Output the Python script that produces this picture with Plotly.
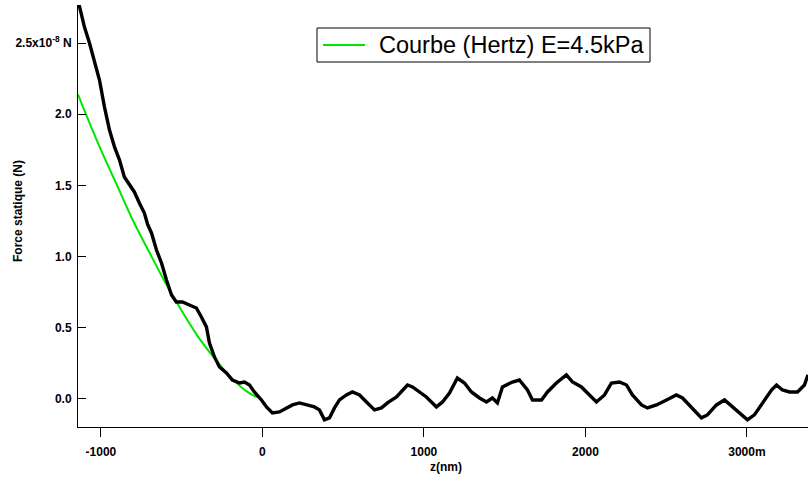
import plotly.graph_objects as go

# Measured static force vs. piezo position (nm, units of 1e-8 N)
z_meas = [-1142, -1133, -1102, -1071, -1040, -1009, -978, -947, -916, -885, -855,
          -824, -793, -762, -731, -712, -687, -656, -625, -594, -563, -533, -495,
          -452, -409, -378, -347, -328, -297, -266, -223, -186, -142, -111, -80,
          -50, -6, 25, 62, 105, 149, 186, 229, 272, 322, 353, 384, 415, 446, 477,
          520, 557, 601, 644, 694, 737, 774, 830, 867, 898, 929, 972, 1015, 1077,
          1115, 1158, 1207, 1251, 1294, 1344, 1387, 1424, 1455, 1486, 1548, 1591,
          1641, 1672, 1728, 1765, 1820, 1882, 1920, 1975, 2012, 2068, 2118, 2161,
          2211, 2254, 2291, 2347, 2384, 2440, 2502, 2563, 2601, 2656, 2718, 2755,
          2811, 2861, 2910, 2966, 3003, 3046, 3096, 3152, 3183, 3220, 3263, 3313,
          3356, 3378]
f_meas = [2.80, 2.753, 2.612, 2.500, 2.380, 2.240, 2.050, 1.889, 1.770, 1.678, 1.559,
          1.503, 1.454, 1.376, 1.306, 1.230, 1.166, 1.046, 0.955, 0.836, 0.730, 0.681,
          0.681, 0.660, 0.639, 0.576, 0.506, 0.393, 0.295, 0.225, 0.183, 0.133, 0.112,
          0.119, 0.098, 0.049, -0.007, -0.056, -0.098, -0.091, -0.063, -0.042, -0.028,
          -0.042, -0.056, -0.077, -0.147, -0.133, -0.063, -0.007, 0.028, 0.049, 0.028,
          -0.021, -0.077, -0.063, -0.028, 0.014, 0.063, 0.098, 0.084, 0.049, 0.014,
          -0.056, -0.021, 0.042, 0.147, 0.112, 0.049, 0.007, -0.021, 0.007, -0.028,
          0.084, 0.119, 0.133, 0.063, -0.007, -0.007, 0.049, 0.112, 0.169, 0.119,
          0.084, 0.042, -0.021, 0.028, 0.112, 0.119, 0.098, 0.028, -0.042, -0.063,
          -0.042, -0.007, 0.028, 0.007, -0.056, -0.133, -0.112, -0.042, -0.007,
          -0.056, -0.112, -0.147, -0.112, -0.028, 0.063, 0.098, 0.063, 0.049, 0.049,
          0.098, 0.169]

# Hertz contact model fit (E = 4.5 kPa)
z_fit = [-1142, -1100, -1000, -900, -800, -700, -600, -500, -400, -300, -200, -100, -35]
f_fit = [2.14, 2.02, 1.75, 1.50, 1.25, 1.03, 0.815, 0.62, 0.44, 0.29, 0.157, 0.055, 0.011]
fit_label = "Courbe (Hertz) E=4.5kPa"

x_ticks = [-1000, 0, 1000, 2000, 3000]
x_ticktext = ["-1000", "0", "1000", "2000", "3000m"]
y_ticks = [0.0, 0.5, 1.0, 1.5, 2.0, 2.5]
y_ticktext = ["0.0", "0.5", "1.0", "1.5", "2.0", "2.5x10<sup>-8</sup> N"]

FONT = "Arial, Liberation Sans, sans-serif"
FIT_GREEN = "#00e600"

# plot area in pixels (left, right, top, bottom)
PL, PR, PT, PB = 78, 808, 5, 427
PW, PH = PR - PL, PB - PT


def px(x):
    return (x - PL) / PW


def py(y):
    return (PB - y) / PH


fig = go.Figure()
fig.add_trace(go.Scatter(
    x=z_fit, y=f_fit, mode="lines", line=dict(color=FIT_GREEN, width=2, shape="spline"),
    name=fit_label, showlegend=False,
))
fig.add_trace(go.Scatter(
    x=z_meas, y=f_meas, mode="lines", line=dict(color="#000000", width=3.4),
    name="mesure", showlegend=False,
))

# boxed key for the fit curve
shapes = [
    dict(type="rect", xref="paper", yref="paper", x0=px(317), x1=px(650),
         y0=py(62), y1=py(28), line=dict(color="black", width=1), fillcolor="white",
         layer="above"),
    dict(type="line", xref="paper", yref="paper", x0=px(323), x1=px(365),
         y0=py(45), y1=py(45), line=dict(color=FIT_GREEN, width=2), layer="above"),
]

fig.update_layout(
    width=808, height=478,
    margin=dict(l=PL, r=808 - PR, t=PT, b=478 - PB),
    paper_bgcolor="white", plot_bgcolor="white",
    font=dict(family=FONT, color="black"),
    showlegend=False,
    shapes=shapes,
    xaxis=dict(
        range=[-1142, 3378], tickvals=x_ticks, ticktext=x_ticktext,
        ticks="outside", ticklen=9, tickwidth=1, tickcolor="black",
        showline=True, linecolor="black", linewidth=1,
        showgrid=False, zeroline=False,
        tickfont=dict(family=FONT, size=12, color="black", weight="bold"),
        ticklabelstandoff=5,
    ),
    yaxis=dict(
        range=[-0.197, 2.767], tickvals=y_ticks, ticktext=y_ticktext,
        ticks="inside", ticklen=8, tickwidth=1, tickcolor="black",
        showline=True, linecolor="black", linewidth=1,
        showgrid=False, zeroline=False,
        tickfont=dict(family=FONT, size=12, color="black", weight="bold"),
        ticklabelstandoff=3,
    ),
    annotations=[
        dict(text=fit_label, xref="paper", yref="paper", x=px(377), y=py(45),
             xanchor="left", yanchor="middle", showarrow=False,
             font=dict(family=FONT, size=23.5, color="black")),
        dict(text="z(nm)", xref="paper", yref="paper", x=0.5, y=0,
             xanchor="center", yanchor="middle", xshift=3, yshift=-40,
             showarrow=False, font=dict(family=FONT, size=12, color="black", weight="bold")),
        dict(text="Force statique (N)", xref="paper", yref="paper", x=0, y=0.5,
             xanchor="center", yanchor="middle", xshift=-60, yshift=5, textangle=-90,
             showarrow=False, font=dict(family=FONT, size=12, color="black", weight="bold")),
    ],
)

fig.write_html("out.html")
